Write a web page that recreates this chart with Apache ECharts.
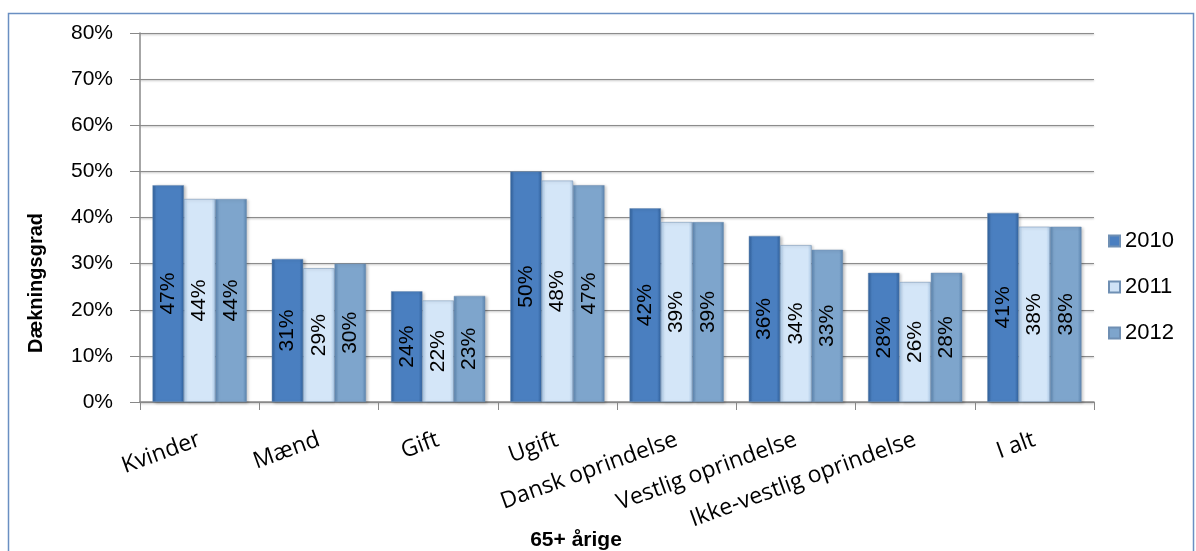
<!DOCTYPE html>
<html>
<head>
<meta charset="utf-8">
<script src="https://cdn.jsdelivr.net/npm/echarts@6/dist/echarts.min.js"></script>
<style>
html, body { margin: 0; padding: 0; background: #fff; }
#main { width: 1196px; height: 551px; }
</style>
</head>
<body>
<div id="main"></div>
<script>
var categories = ['Kvinder', 'Mænd', 'Gift', 'Ugift', 'Dansk oprindelse', 'Vestlig oprindelse', 'Ikke-vestlig oprindelse', 'I alt'];
var years = ['2010', '2011', '2012'];
var v2010 = [47, 31, 24, 50, 42, 36, 28, 41];
var v2011 = [44, 29, 22, 48, 39, 34, 26, 38];
var v2012 = [44, 30, 23, 47, 39, 33, 28, 38];
var yTicks = [0, 10, 20, 30, 40, 50, 60, 70, 80];

function bevel(edge, mid) {
	return new echarts.graphic.LinearGradient(0, 0, 1, 0, [
		{ offset: 0, color: edge },
		{ offset: 0.12, color: mid },
		{ offset: 0.88, color: mid },
		{ offset: 1, color: edge }
	]);
}
var colors = [
	bevel('#2f5f9a', '#4a7fc0'),
	bevel('#a9c6e4', '#d4e6f8'),
	bevel('#5a83ad', '#7ea5cc')
];
var legendColors = ['#4a7fc0', '#cfe2f6', '#7ea5cc'];
var seriesData = [v2010, v2011, v2012];

var myChart = echarts.init(document.getElementById('main'));
var series = years.map(function(y, i) {
	return {
		name: y,
		type: 'bar',
		data: seriesData[i],
		barGap: '0%',
		barCategoryGap: '21%',
		itemStyle: { color: colors[i], borderColor: '#6f8fb3', borderWidth: 0.5,
			shadowColor: 'rgba(0,0,0,0.25)', shadowBlur: 3, shadowOffsetX: 2, shadowOffsetY: 1 },
		label: {
			show: true,
			position: 'inside',
			rotate: 90,
			formatter: '{c}%',
			color: '#000',
			fontSize: 21,
			fontFamily: 'Liberation Sans'
		}
	};
});

var option = {
	animation: false,
	color: legendColors,
	graphic: [{
		type: 'rect',
		shape: { x: 8.5, y: 13.5, width: 1185, height: 560 },
		style: { fill: 'none', stroke: '#6a8fc2', lineWidth: 1.5 },
		silent: true
	}, {
		type: 'text',
		x: 576, y: 540,
		style: { text: '65+ årige', font: 'bold 21px "Liberation Sans"', fill: '#000', align: 'center', verticalAlign: 'middle' }
	}, {
		type: 'text',
		x: 36, y: 283,
		rotation: Math.PI / 2,
		style: { text: 'Dækningsgrad', font: 'bold 20px "Liberation Sans"', fill: '#000', align: 'center', verticalAlign: 'middle' }
	}],
	legend: {
		orient: 'vertical',
		left: 1103,
		top: 225,
		itemGap: 24,
		itemWidth: 11,
		itemHeight: 11,
		icon: 'rect',
		data: years.map(function(y, i) { return { name: y, itemStyle: { color: legendColors[i] } }; }),
		textStyle: { fontSize: 22, fontFamily: 'Liberation Sans', color: '#000' }
	},
	grid: { left: 140, right: 102, top: 33, bottom: 149, containLabel: false },
	xAxis: {
		type: 'category',
		data: categories,
		axisLine: { lineStyle: { color: '#888', width: 1.5 } },
		axisTick: { show: true, length: 8, lineStyle: { color: '#888' } },
		axisLabel: {
			rotate: 20,
			interval: 0,
			margin: 37,
			fontSize: 23,
			fontFamily: 'Open Sans',
			color: '#000'
		}
	},
	yAxis: {
		type: 'value',
		min: yTicks[0],
		max: yTicks[yTicks.length - 1],
		interval: 10,
		axisLine: { show: true, lineStyle: { color: '#888', width: 1.5 } },
		axisTick: { show: true, length: 10, lineStyle: { color: '#888' } },
		axisLabel: {
			formatter: '{value}%',
			fontSize: 21,
			fontFamily: 'Liberation Sans',
			color: '#000',
			margin: 27
		},
		splitLine: { show: true, lineStyle: { color: '#8c8c8c', width: 1.2, shadowColor: 'rgba(0,0,0,0.3)', shadowBlur: 2, shadowOffsetY: 1 } }
	},
	series: series
};
myChart.setOption(option);
</script>
</body>
</html>
